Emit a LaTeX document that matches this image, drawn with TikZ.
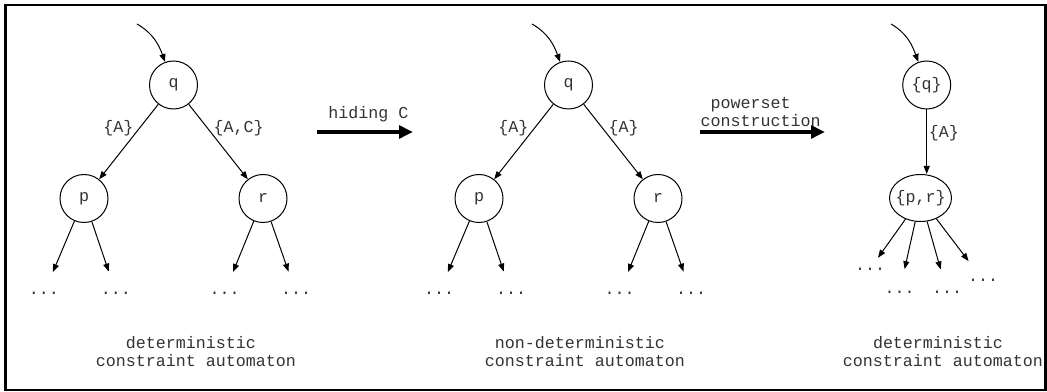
\documentclass[tikz,border=0pt]{standalone}
\usepackage{fontspec}
\setmainfont{Liberation Mono}
\usepackage{tikz}
\usetikzlibrary{arrows.meta, shapes.geometric}

\begin{document}
\begin{tikzpicture}[x=0.6pt, y=-0.6pt, ->, >={Triangle[length=4.8pt,width=3.6pt]},
    line width=0.6pt, font=\fontsize{10}{10.8}\selectfont, text=black!80]
  \tikzstyle{state}=[circle, draw, minimum size=28.8pt, inner sep=0pt]
  \tikzstyle{dots}=[inner sep=0pt]
  \tikzstyle{annot}=[align=center, inner sep=0pt]
  \tikzstyle{trans}=[line width=2.1pt, -{Triangle[length=8.4pt,width=7.6pt]}]

  \useasboundingbox (0,0) rectangle (1047,392);
  \draw[-, line width=1.4pt] (5.5,5) rectangle (1045.5,390);

  % Draw the first two automata
  \foreach \t / \dx / \lab in {1/0/{\{A,C\}}, 2/395/{\{A\}}} {
    \node[state] (q\t) at (173.5+\dx,85) {q};
    \node[state] (p\t) at (84+\dx,198.5) {p};
    \node[state] (r\t) at (263+\dx,198.5) {r};
    \coordinate (i\t) at (137+\dx,24);
    \draw (i\t) to[out=-30,in=110] (q\t);
    \draw (q\t) -- node[pos=0.32,left] {\{A\}} (p\t);
    \draw (q\t) -- node[pos=0.32,right] {\lab} (r\t);
    % successors
    \foreach \n / \xd in {1/44,2/116,3/224.5,4/296}
      \node[dots] (d\t-\n) at (\xd+\dx,293) {...};
    \draw[shorten >=12.5pt] (p\t) -- (d\t-1);
    \draw[shorten >=12.5pt] (p\t) -- (d\t-2);
    \draw[shorten >=12.5pt] (r\t) -- (d\t-3);
    \draw[shorten >=12.5pt] (r\t) -- (d\t-4);
  }

  % Draw the powerset automaton
  \node[state] (q3) at (926.7,85) {\{q\}};
  \node[draw, ellipse, minimum width=37.2pt, minimum height=28.2pt, inner sep=0pt]
    (pr3) at (920.5,198) {\makebox[0pt]{\{p,r\}}};
  \coordinate (i3) at (891,24);
  \draw (i3) to[out=-30,in=110] (q3);
  \draw (q3) -- node[pos=0.37,right,inner sep=1pt] {\{A\}} (q3 |- pr3.north);
  \foreach \n / \xd / \yd / \s in {1/870/269/7pt, 2/899.5/292/13pt, 3/947/292/13pt, 4/983/280/13pt} {
    \node[dots] (d3-\n) at (\xd,\yd) {...};
    \draw[shorten >=\s] (pr3) -- (d3-\n);
  }

  % Transformations
  \coordinate (hs) at (317,132);
  \coordinate (he) at (413,132);
  \draw[trans] (hs) -- (he);
  \node[inner sep=0pt, anchor=base] (hide) at (368.5,119) {hiding C};
  \coordinate (ps) at (700,132);
  \coordinate (pe) at (825,132);
  \draw[trans] (ps) -- (pe);
  \node[inner sep=0pt, align=left, anchor=south west] (pow) at (700,127)
    {\hphantom{x}powerset\\construction};

  % Captions
  \node[annot] (cap1) at (196,352) {deterministic\hphantom{x}\\constraint automaton};
  \node[annot] (cap2) at (585,352) {non-deterministic\hphantom{x}\\constraint automaton};
  \node[annot] (cap3) at (943,352) {deterministic\hphantom{x}\\constraint automaton};
\end{tikzpicture}
\end{document}
